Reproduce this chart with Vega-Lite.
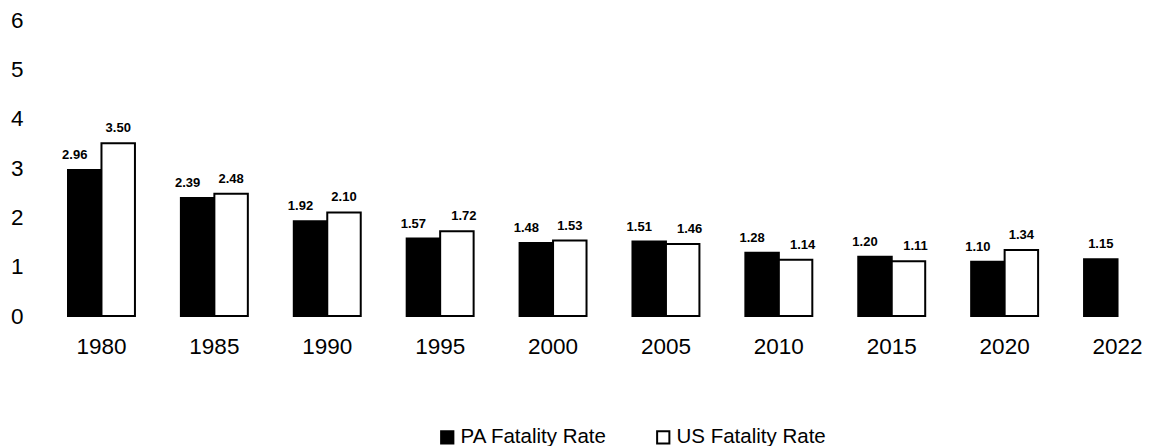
{
  "$schema": "https://vega.github.io/schema/vega-lite/v6.json",
  "autosize": {"type": "none"},
  "width": 1083,
  "height": 296,
  "padding": {"left": 68, "top": 20, "right": 1, "bottom": 130},
  "background": "white",
  "config": {
    "font": "Liberation Sans, Arial, sans-serif",
    "view": {"stroke": null}
  },
  "data": {
    "values": [
      {"year": "1980", "series": "PA Fatality Rate", "rate": 2.96},
      {"year": "1985", "series": "PA Fatality Rate", "rate": 2.39},
      {"year": "1990", "series": "PA Fatality Rate", "rate": 1.92},
      {"year": "1995", "series": "PA Fatality Rate", "rate": 1.57},
      {"year": "2000", "series": "PA Fatality Rate", "rate": 1.48},
      {"year": "2005", "series": "PA Fatality Rate", "rate": 1.51},
      {"year": "2010", "series": "PA Fatality Rate", "rate": 1.28},
      {"year": "2015", "series": "PA Fatality Rate", "rate": 1.20},
      {"year": "2020", "series": "PA Fatality Rate", "rate": 1.10},
      {"year": "2022", "series": "PA Fatality Rate", "rate": 1.15},
      {"year": "1980", "series": "US Fatality Rate", "rate": 3.50},
      {"year": "1985", "series": "US Fatality Rate", "rate": 2.48},
      {"year": "1990", "series": "US Fatality Rate", "rate": 2.10},
      {"year": "1995", "series": "US Fatality Rate", "rate": 1.72},
      {"year": "2000", "series": "US Fatality Rate", "rate": 1.53},
      {"year": "2005", "series": "US Fatality Rate", "rate": 1.46},
      {"year": "2010", "series": "US Fatality Rate", "rate": 1.14},
      {"year": "2015", "series": "US Fatality Rate", "rate": 1.11},
      {"year": "2020", "series": "US Fatality Rate", "rate": 1.34}
    ]
  },
  "encoding": {
    "x": {
      "field": "year", "type": "nominal",
      "sort": ["1980","1985","1990","1995","2000","2005","2010","2015","2020","2022"],
      "scale": {"paddingInner": 0.407, "paddingOuter": 0},
      "axis": {"title": null, "labelAngle": 0, "domain": false, "ticks": false, "labelFontSize": 22.5, "labelColor": "black", "labelPadding": 19}
    },
    "xOffset": {"field": "series", "type": "nominal", "scale": {"domain": ["PA Fatality Rate", "US Fatality Rate"], "paddingInner": 0, "paddingOuter": 0}},
    "y": {
      "field": "rate", "type": "quantitative",
      "scale": {"domain": [0, 6], "nice": false},
      "axis": {"title": null, "values": [0,1,2,3,4,5,6], "grid": false, "domain": false, "ticks": false, "labelFontSize": 22.5, "labelColor": "black", "labelPadding": 45, "labelAlign": "right", "labelBaseline": "middle"}
    }
  },
  "layer": [
    {
      "mark": {"type": "bar", "stroke": "black", "strokeWidth": 2},
      "encoding": {
        "color": {
          "field": "series", "type": "nominal",
          "scale": {"domain": ["PA Fatality Rate", "US Fatality Rate"], "range": ["black", "white"]},
          "legend": {
            "title": null, "orient": "none", "direction": "horizontal",
            "legendX": 369, "legendY": 407,
            "symbolType": "square", "symbolSize": 150, "symbolStrokeColor": "black", "symbolStrokeWidth": 2,
            "labelFontSize": 20.5, "labelColor": "black", "labelOffset": 3, "columnPadding": 45
          }
        }
      }
    },
    {
      "transform": [{"filter": "datum.series == 'PA Fatality Rate' && datum.year != '2022'"}],
      "mark": {"type": "text", "fontWeight": "bold", "fontSize": 13, "baseline": "alphabetic", "dy": -11, "dx": -10, "color": "black"},
      "encoding": {"text": {"field": "rate", "type": "quantitative", "format": ".2f"}}
    },
    {
      "transform": [{"filter": "datum.series == 'PA Fatality Rate' && datum.year == '2022'"}],
      "mark": {"type": "text", "fontWeight": "bold", "fontSize": 13, "baseline": "alphabetic", "dy": -11, "color": "black"},
      "encoding": {"text": {"field": "rate", "type": "quantitative", "format": ".2f"}}
    },
    {
      "transform": [{"filter": "datum.series == 'US Fatality Rate' && indexof(['1995','2005','2010','2015'], datum.year) >= 0"}],
      "mark": {"type": "text", "fontWeight": "bold", "fontSize": 13, "baseline": "alphabetic", "dy": -11, "dx": 7, "color": "black"},
      "encoding": {"text": {"field": "rate", "type": "quantitative", "format": ".2f"}}
    },
    {
      "transform": [{"filter": "datum.series == 'US Fatality Rate' && indexof(['1995','2005','2010','2015'], datum.year) < 0"}],
      "mark": {"type": "text", "fontWeight": "bold", "fontSize": 13, "baseline": "alphabetic", "dy": -11, "color": "black"},
      "encoding": {"text": {"field": "rate", "type": "quantitative", "format": ".2f"}}
    }
  ]
}
